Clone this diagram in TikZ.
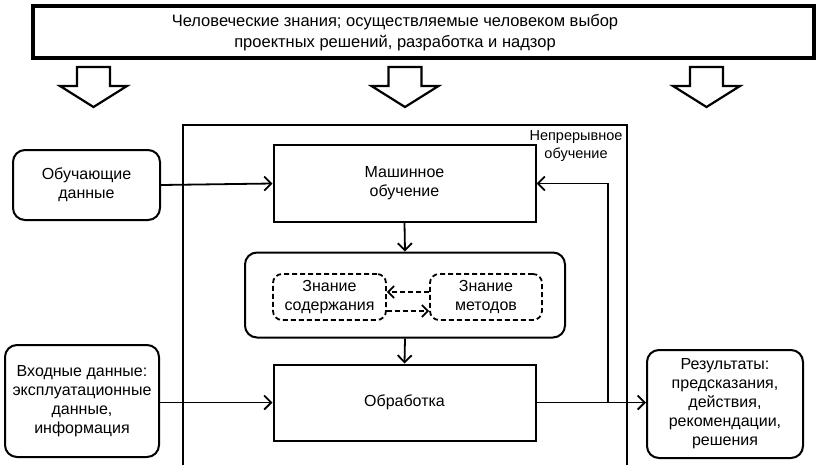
\documentclass[tikz,border=0pt]{standalone}
\usepackage{fontspec}
\setmainfont{Liberation Sans}
\usetikzlibrary{arrows.meta}
\tikzset{
  box/.style={draw, line width=2pt, rectangle, align=center, inner sep=0pt},
  rbox/.style={draw, line width=2pt, rectangle, rounded corners=12pt, align=center, inner sep=0pt},
  dbox/.style={draw, line width=1.8pt, dash pattern=on 5pt off 3pt, rectangle, rounded corners=9pt, align=center, inner sep=0pt},
  conn/.style={line width=1.8pt, -{Straight Barb[length=7pt,width=14pt,line width=1.8pt]}},
  dconn/.style={line width=1.7pt, dash pattern=on 5pt off 3pt, -{Straight Barb[length=6pt,width=12pt,line width=1.7pt]}},
  bigarrow/.style={draw, line width=2.2pt, fill=white, line join=miter},
  txt/.style={font=\fontsize{16}{19}\selectfont}
}
\begin{document}
\begin{tikzpicture}[x=1pt,y=-1pt]
\useasboundingbox (0,0) rectangle (820,464);
% top box
\node[box, line width=4pt, minimum width=781.5pt, minimum height=52pt] (top) at (423.25,31.5) {};
\node[txt, align=center, font=\fontsize{16.5}{21}\selectfont] (toptxt) at (395,32.5) {Человеческие знания; осуществляемые человеком выбор\\проектных решений, разработка и надзор};
% block arrows
\foreach \cx in {93.5,405,706.5}{
  \draw[bigarrow] (\cx-16.5,67) -- (\cx+16.5,67) -- (\cx+16.5,86) -- (\cx+33.5,86) -- (\cx,107) -- (\cx-33.5,86) -- (\cx-16.5,86) -- cycle;
}
% continuous learning frame
\draw[line width=2pt] (183,466) -- (183,125) -- (627,125) -- (627,466);
\node[txt, align=center, font=\fontsize{14.5}{17.5}\selectfont] (cl) at (576,146) {Непрерывное\\обучение};
% ML box
\node[box, txt, minimum width=262pt, minimum height=77pt] (ml) at (404.5,183.5) {Машинное\\обучение};
% knowledge container
\node[rbox, minimum width=320pt, minimum height=85pt] (kn) at (405,295) {};
\node[dbox, txt, minimum width=113pt, minimum height=46pt] (kc) at (329.5,297) {Знание\\содержания};
\node[dbox, txt, minimum width=112pt, minimum height=46pt] (km) at (486,297) {Знание\\методов};
% processing box
\node[box, txt, minimum width=262pt, minimum height=76pt] (pr) at (404.5,402.5) {Обработка};
% left boxes
\node[rbox, txt, minimum width=147pt, minimum height=70pt] (train) at (86.5,185) {Обучающие\\данные};
\node[rbox, txt, minimum width=154pt, minimum height=112pt] (inp) at (82,401) {Входные данные:\\эксплуатационные\\данные,\\информация};
% results
\node[rbox, txt, minimum width=156pt, minimum height=108pt] (res) at (725,404) {Результаты:\\предсказания,\\действия,\\рекомендации,\\решения};
% connectors
\draw[conn] (train.east) -- (ml.west);
\draw[conn] (inp.east |- pr.west) -- (pr.west);
\draw[conn] (ml.south) -- (kn.north);
\draw[conn] (kn.south) -- (pr.south |- pr.north);
\draw[conn] (pr.east) -- (res.west |- pr.east);
\coordinate (fb) at (608,402.5);
\draw[conn] (fb) -- (fb |- ml.east) -- (ml.east);
\draw[dconn] (km.west |- 0,292) -- (kc.east |- 0,292);
\draw[dconn] (kc.east |- 0,311) -- (km.west |- 0,311);
\end{tikzpicture}
\end{document}
